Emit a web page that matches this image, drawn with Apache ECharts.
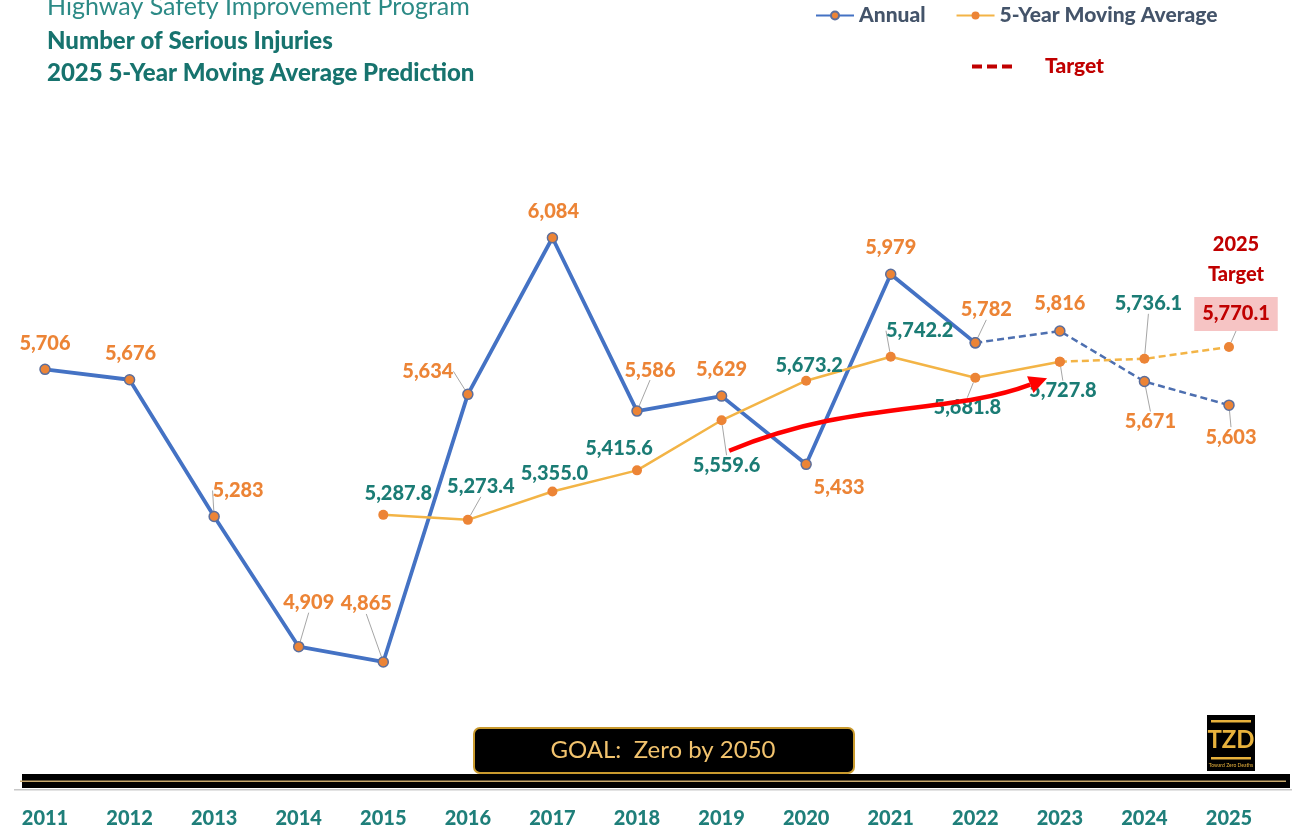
<!DOCTYPE html>
<html lang="en">
<head>
<meta charset="utf-8">
<style>
  html, body { margin: 0; background: #fff; }
  #container { width: 1299px; height: 830px; }
</style>
</head>
<body>
<div id="container"></div>
<script src="https://cdn.jsdelivr.net/npm/echarts@6/dist/echarts.min.js"></script>
<script>
const years = ['2011', '2012', '2013', '2014', '2015', '2016', '2017', '2018', '2019', '2020', '2021', '2022', '2023', '2024', '2025'];
const annual = [5706, 5676, 5283, 4909, 4865, 5634, 6084, 5586, 5629, 5433, 5979, 5782, null, null, null];
const annualProjected = [null, null, null, null, null, null, null, null, null, null, null, 5782, 5816, 5671, 5603];
const movingAverage = [null, null, null, null, 5287.8, 5273.4, 5355.0, 5415.6, 5559.6, 5673.2, 5742.2, 5681.8, 5727.8, null, null];
const movingAverageProjected = [null, null, null, null, null, null, null, null, null, null, null, null, 5727.8, 5736.1, 5770.1];

// trend arrow, [year index, value]
const arrowPoints = [[8.09, 5472], [9.52, 5618], [10.70, 5575], [11.65, 5662]];

// label placement (px from the point) and which labels get a leader line
const annualLabelOffsets = [[0, -26], [1, -26], [24, -26], [10, -44], [-17, -58], [-40, -23], [1, -26], [13, -41], [0, -27], [33, 23], [0, -27], [11, -33], [0, -27], [6, 40], [2, 32]];
const maLabelOffsets = [null, null, null, null, [15, -21], [13, -33], [2, -18], [-18, -22], [5, 45], [3, -15], [29, -26], [-8, 30], [3, 29], [4, -55], [7, -70]];
const annualLeaders = ['2013', '2014', '2015', '2016', '2018', '2022', '2024', '2025'];
const maLeaders = ['2016', '2019', '2021', '2022', '2023', '2024', '2025'];

const FONT = 'Lato';
const BLUE = '#4472C4';
const ORANGE = '#EC8436';
const GOLD_LINE = '#F3B446';
const TEAL = '#1B7C75';
const DARK_RED = '#C00000';

function items(values, leaders, skipFirst) {
  let first = values.findIndex(v => v != null);
  return values.map((v, i) => {
    if (v == null) return '-';
    return {
      value: v,
      label: { show: !(skipFirst && i === first) },
      labelLine: { show: leaders.indexOf(years[i]) >= 0 }
    };
  });
}

function offsetLayout(offsets) {
  return function (p) {
    const o = offsets[p.dataIndex];
    return o ? { dx: o[0], dy: o[1] } : {};
  };
}

const fmtInt = v => Number(v).toLocaleString('en-US');
const fmtOne = v => Number(v).toLocaleString('en-US', { minimumFractionDigits: 1, maximumFractionDigits: 1 });

const leaderStyle = { show: false, lineStyle: { color: '#A6A6A6', width: 1 } };

const annualLabel = {
  show: true, position: 'inside', color: ORANGE, fontFamily: FONT, fontWeight: 900, fontSize: 20,
  formatter: p => fmtInt(p.value)
};
const maLabel = {
  show: true, position: 'inside', color: TEAL, fontFamily: FONT, fontWeight: 900, fontSize: 20,
  formatter: p => p.dataIndex === 14
    ? '{t|2025}\n{t|Target}\n{s| }\n{v|' + fmtOne(p.value) + '}'
    : fmtOne(p.value),
  rich: {
    t: { color: DARK_RED, fontFamily: FONT, fontWeight: 900, fontSize: 20, lineHeight: 30, align: 'center' },
    s: { fontSize: 10, lineHeight: 14 },
    v: { color: DARK_RED, fontFamily: FONT, fontWeight: 900, fontSize: 20, lineHeight: 21,
         backgroundColor: '#F6C4C4', padding: [7, 8], align: 'center' }
  }
};

const chart = echarts.init(document.getElementById('container'), null, { renderer: 'canvas' });

function staticGraphics() {
  return [
    { id: 'bar-shadow', type: 'rect', silent: true, z: 1,
      shape: { x: 14, y: 789, width: 1278, height: 1.5 }, style: { fill: '#C8C8C8' } },
    { id: 'bar', type: 'rect', silent: true, z: 2,
      shape: { x: 22, y: 774, width: 1268, height: 14 }, style: { fill: '#000' } },
    { id: 'bar-gold', type: 'rect', silent: true, z: 3,
      shape: { x: 20, y: 780.5, width: 1266, height: 1.5 }, style: { fill: '#C9AA6E' } },
    { id: 'goal-box', type: 'rect', silent: true, z: 4,
      shape: { x: 474, y: 728, width: 380, height: 45, r: 6 },
      style: { fill: '#000', stroke: '#C99A2E', lineWidth: 2 } },
    { id: 'goal-text', type: 'text', silent: true, z: 5, x: 663, y: 750,
      style: { text: 'GOAL:  Zero by 2050', fill: '#F2C36E', font: '24px ' + FONT, align: 'center', verticalAlign: 'middle' } },
    { id: 'tzd-box', type: 'rect', silent: true, z: 4,
      shape: { x: 1207, y: 715, width: 48, height: 56 }, style: { fill: '#000' } },
    { id: 'tzd-top', type: 'rect', silent: true, z: 5,
      shape: { x: 1211, y: 720, width: 40, height: 2.5 }, style: { fill: '#E8B23C' } },
    { id: 'tzd-text', type: 'text', silent: true, z: 5, x: 1231, y: 740,
      style: { text: 'TZD', fill: '#E8B23C', font: 'bold 24px "Liberation Sans Narrow", ' + FONT, align: 'center', verticalAlign: 'middle' } },
    { id: 'tzd-bot', type: 'rect', silent: true, z: 5,
      shape: { x: 1211, y: 757, width: 40, height: 2.5 }, style: { fill: '#E8B23C' } },
    { id: 'tzd-small', type: 'text', silent: true, z: 5, x: 1231, y: 765,
      style: { text: 'Toward Zero Deaths', fill: '#E8B23C', font: '5px ' + FONT, align: 'center', verticalAlign: 'middle' } }
  ];
}

const option = {
  animation: false,
  backgroundColor: '#fff',
  title: [
    { text: 'Highway Safety Improvement Program', left: 47, top: -6, padding: 0,
      textStyle: { fontFamily: FONT, fontSize: 25, fontWeight: 'normal', color: '#2C8A86' } },
    { text: 'Number of Serious Injuries', left: 47, top: 29, padding: 0,
      textStyle: { fontFamily: FONT, fontSize: 24, fontWeight: 900, color: '#17736E' } },
    { text: '2025 5-Year Moving Average Prediction', left: 47, top: 61, padding: 0,
      textStyle: { fontFamily: FONT, fontSize: 24, fontWeight: 900, color: '#17736E' } }
  ],
  legend: [
    { data: ['Annual', '5-Year Moving Average'], left: 815, top: 5, padding: 0,
      itemWidth: 38, itemHeight: 10, itemGap: 30,
      textStyle: { fontFamily: FONT, fontSize: 21, fontWeight: 900, color: '#44546A' } },
    { data: [{ name: 'Target', icon: 'path://M0,0h10v4h-10z M15,0h10v4h-10z M30,0h10v4h-10z' }],
      left: 972, top: 56, padding: 0,
      itemWidth: 40, itemHeight: 4,
      textStyle: { fontFamily: FONT, fontSize: 21, fontWeight: 900, color: DARK_RED, padding: [0, 0, 0, 28] } }
  ],
  grid: { left: 45, right: 70, top: 93, bottom: 41, containLabel: false },
  xAxis: {
    type: 'category',
    data: years,
    boundaryGap: false,
    axisLine: { show: false },
    axisTick: { show: false },
    splitLine: { show: false },
    axisLabel: { margin: 20, fontFamily: FONT, fontSize: 20, fontWeight: 900, color: '#1F7F7A' }
  },
  yAxis: {
    type: 'value',
    min: 4500,
    max: 6500,
    show: false,
    splitLine: { show: false }
  },
  series: [
    { name: 'Annual', type: 'line', z: 3,
      data: items(annual, annualLeaders, false),
      symbol: 'circle', symbolSize: 10,
      lineStyle: { color: BLUE, width: 3.8 },
      itemStyle: { color: ORANGE, borderColor: '#5B6E9C', borderWidth: 1.5 },
      label: annualLabel, labelLine: leaderStyle,
      labelLayout: offsetLayout(annualLabelOffsets) },
    { name: 'Annual projection', type: 'line', z: 3,
      data: items(annualProjected, annualLeaders, true),
      symbol: 'circle', symbolSize: 10,
      lineStyle: { color: '#4D6FB0', width: 2.5, type: [7, 4] },
      itemStyle: { color: ORANGE, borderColor: '#5B6E9C', borderWidth: 1.5 },
      label: annualLabel, labelLine: leaderStyle,
      labelLayout: offsetLayout(annualLabelOffsets) },
    { name: '5-Year Moving Average', type: 'line', z: 4,
      data: items(movingAverage, maLeaders, false),
      symbol: 'circle', symbolSize: 10,
      lineStyle: { color: GOLD_LINE, width: 2.5 },
      itemStyle: { color: ORANGE },
      label: maLabel, labelLine: leaderStyle,
      labelLayout: offsetLayout(maLabelOffsets) },
    { name: 'MA projection', type: 'line', z: 4,
      data: items(movingAverageProjected, maLeaders, true),
      symbol: 'circle', symbolSize: 10,
      lineStyle: { color: GOLD_LINE, width: 2.5, type: [7, 4] },
      itemStyle: { color: ORANGE },
      label: maLabel, labelLine: leaderStyle,
      labelLayout: offsetLayout(maLabelOffsets) },
    { name: 'Target', type: 'line', data: [],
      symbol: 'none',
      lineStyle: { color: DARK_RED, width: 3, type: [10, 5] },
      itemStyle: { color: DARK_RED } }
  ],
  graphic: staticGraphics()
};

chart.setOption(option);

// red trend arrow drawn in data space
function toPx(pt) {
  const a = chart.convertToPixel({ gridIndex: 0 }, [0, pt[1]]);
  const b = chart.convertToPixel({ gridIndex: 0 }, [1, pt[1]]);
  return [a[0] + (b[0] - a[0]) * pt[0], a[1]];
}
const P = arrowPoints.map(toPx);
const dx = P[3][0] - P[2][0], dy = P[3][1] - P[2][1];
const len = Math.sqrt(dx * dx + dy * dy);
const ux = dx / len, uy = dy / len;
const tip = [P[3][0] + ux * 18, P[3][1] + uy * 18];
const headL = [P[3][0] - uy * 9, P[3][1] + ux * 9];
const headR = [P[3][0] + uy * 9, P[3][1] - ux * 9];

chart.setOption({
  graphic: staticGraphics().concat([
    { id: 'arrow-line', type: 'bezierCurve', silent: true, z: 10,
      shape: { x1: P[0][0], y1: P[0][1], cpx1: P[1][0], cpy1: P[1][1], cpx2: P[2][0], cpy2: P[2][1], x2: P[3][0], y2: P[3][1] },
      style: { stroke: '#FF0000', lineWidth: 4.5, fill: null } },
    { id: 'arrow-head', type: 'polygon', silent: true, z: 10,
      shape: { points: [tip, headL, headR] }, style: { fill: '#FF0000' } }
  ])
});

window.addEventListener('resize', chart.resize);
</script>
</body>
</html>
